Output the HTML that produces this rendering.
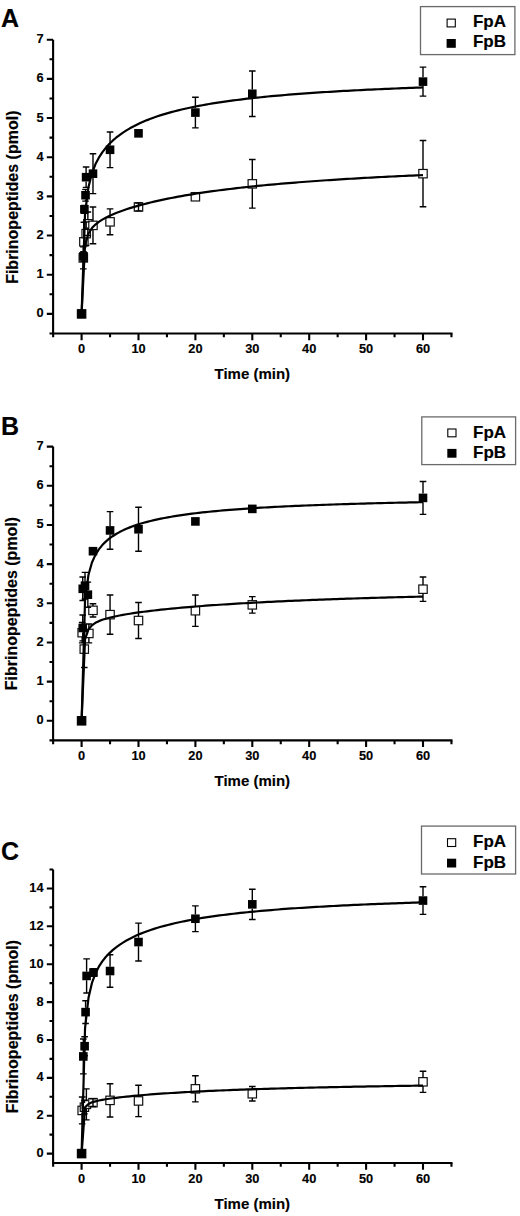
<!DOCTYPE html>
<html><head><meta charset="utf-8"><style>
html,body{margin:0;padding:0;background:#fff;}
body{width:520px;height:1216px;overflow:hidden;}
svg{display:block;}
text{font-family:"Liberation Sans",sans-serif;font-weight:bold;stroke:#000;stroke-width:0.15px;}
</style></head><body>
<svg width="520" height="1216" viewBox="0 0 520 1216">
<rect width="520" height="1216" fill="#fff"/>
<text x="1.0" y="26.8"  font-size="25">A</text>
<rect x="420.5" y="6.6" width="94.4" height="48.0" fill="none" stroke="#6a6a6a" stroke-width="1.3"/>
<rect x="447.1" y="19.1" width="8.2" height="7.8" fill="#fff" stroke="#000" stroke-width="1.1"/>
<rect x="446.6" y="39.0" width="9.2" height="8.8" fill="#000"/>
<text transform="translate(472.9 27.2) scale(1.09 1)" font-size="15.6">FpA</text>
<text transform="translate(472.9 47.4) scale(1.09 1)" font-size="15.6">FpB</text>
<path d="M53.1 39.71 V334.53 M52.05 333.48 H452.50" stroke="#000" stroke-width="2.1" fill="none"/>
<text x="43.5" y="317.40"  font-size="12.8" text-anchor="end">0</text>
<text x="43.5" y="278.23"  font-size="12.8" text-anchor="end">1</text>
<text x="43.5" y="239.06"  font-size="12.8" text-anchor="end">2</text>
<text x="43.5" y="199.89"  font-size="12.8" text-anchor="end">3</text>
<text x="43.5" y="160.72"  font-size="12.8" text-anchor="end">4</text>
<text x="43.5" y="121.55"  font-size="12.8" text-anchor="end">5</text>
<text x="43.5" y="82.38"  font-size="12.8" text-anchor="end">6</text>
<text x="43.5" y="43.21"  font-size="12.8" text-anchor="end">7</text>
<text x="81.60" y="353.48"  font-size="12.8" text-anchor="middle">0</text>
<text x="138.50" y="353.48"  font-size="12.8" text-anchor="middle">10</text>
<text x="195.40" y="353.48"  font-size="12.8" text-anchor="middle">20</text>
<text x="252.30" y="353.48"  font-size="12.8" text-anchor="middle">30</text>
<text x="309.20" y="353.48"  font-size="12.8" text-anchor="middle">40</text>
<text x="366.10" y="353.48"  font-size="12.8" text-anchor="middle">50</text>
<text x="423.00" y="353.48"  font-size="12.8" text-anchor="middle">60</text>
<path d="M49.50 333.48H53.1M46.80 313.90H53.1M49.50 294.31H53.1M46.80 274.73H53.1M49.50 255.14H53.1M46.80 235.56H53.1M49.50 215.97H53.1M46.80 196.39H53.1M49.50 176.80H53.1M46.80 157.22H53.1M49.50 137.63H53.1M46.80 118.05H53.1M49.50 98.46H53.1M46.80 78.88H53.1M49.50 59.29H53.1M46.80 39.71H53.1M53.15 333.48V337.28M81.60 333.48V340.18M110.05 333.48V337.28M138.50 333.48V340.18M166.95 333.48V337.28M195.40 333.48V340.18M223.85 333.48V337.28M252.30 333.48V340.18M280.75 333.48V337.28M309.20 333.48V340.18M337.65 333.48V337.28M366.10 333.48V340.18M394.55 333.48V337.28M423.00 333.48V340.18M451.45 333.48V337.28" stroke="#000" stroke-width="2.1" fill="none"/>
<text transform="translate(252.30 379.28)" font-size="15" text-anchor="middle">Time (min)</text>
<text transform="translate(18.35 197.2) rotate(-90)" x="0" y="0"  font-size="16" text-anchor="middle">Fibrinopeptides (pmol)</text>
<rect x="77.40" y="309.70" width="8.4" height="8.4" fill="#fff" stroke="#111" stroke-width="1.2"/>
<rect x="79.11" y="253.69" width="8.4" height="8.4" fill="#fff" stroke="#111" stroke-width="1.2"/>
<rect x="79.68" y="237.63" width="8.4" height="8.4" fill="#fff" stroke="#111" stroke-width="1.2"/>
<rect x="81.95" y="229.40" width="8.4" height="8.4" fill="#fff" stroke="#111" stroke-width="1.2"/>
<rect x="83.66" y="219.61" width="8.4" height="8.4" fill="#fff" stroke="#111" stroke-width="1.2"/>
<rect x="88.78" y="221.18" width="8.4" height="8.4" fill="#fff" stroke="#111" stroke-width="1.2"/>
<rect x="105.85" y="217.65" width="8.4" height="8.4" fill="#fff" stroke="#111" stroke-width="1.2"/>
<rect x="134.30" y="202.77" width="8.4" height="8.4" fill="#fff" stroke="#111" stroke-width="1.2"/>
<rect x="191.20" y="192.58" width="8.4" height="8.4" fill="#fff" stroke="#111" stroke-width="1.2"/>
<rect x="248.10" y="179.66" width="8.4" height="8.4" fill="#fff" stroke="#111" stroke-width="1.2"/>
<rect x="418.80" y="169.47" width="8.4" height="8.4" fill="#fff" stroke="#111" stroke-width="1.2"/>
<rect x="77.30" y="309.60" width="8.6" height="8.6" fill="#000"/>
<rect x="79.18" y="252.02" width="8.6" height="8.6" fill="#000"/>
<rect x="80.09" y="205.02" width="8.6" height="8.6" fill="#000"/>
<rect x="81.23" y="190.91" width="8.6" height="8.6" fill="#000"/>
<rect x="81.80" y="172.90" width="8.6" height="8.6" fill="#000"/>
<rect x="88.68" y="169.37" width="8.6" height="8.6" fill="#000"/>
<rect x="105.75" y="145.48" width="8.6" height="8.6" fill="#000"/>
<rect x="134.20" y="129.03" width="8.6" height="8.6" fill="#000"/>
<rect x="191.10" y="108.27" width="8.6" height="8.6" fill="#000"/>
<rect x="248.00" y="89.46" width="8.6" height="8.6" fill="#000"/>
<rect x="418.70" y="77.32" width="8.6" height="8.6" fill="#000"/>
<path d="M83.31 253.59V246.92M83.31 262.19V268.85M80.01 246.92H86.61M80.01 268.85H86.61M83.88 237.53V222.24M83.88 246.13V261.41M80.58 222.24H87.18M80.58 261.41H87.18M86.15 229.30V221.85M86.15 237.90V245.35M82.85 221.85H89.45M82.85 245.35H89.45M87.86 219.51V212.06M87.86 228.11V235.56M84.56 212.06H91.16M84.56 235.56H91.16M92.98 221.08V206.97M92.98 229.68V243.79M89.68 206.97H96.28M89.68 243.79H96.28M110.05 217.55V208.92M110.05 226.15V234.78M106.75 208.92H113.35M106.75 234.78H113.35M138.50 203.05V210.88M135.20 203.05H141.80M135.20 210.88H141.80M252.30 179.56V159.57M252.30 188.16V208.14M249.00 159.57H255.60M249.00 208.14H255.60M423.00 169.37V140.57M423.00 177.97V206.77M419.70 140.57H426.30M419.70 206.77H426.30M83.48 252.02V251.62M83.48 260.62V261.02M80.18 251.62H86.78M80.18 261.02H86.78M84.39 205.40V213.23M81.09 205.40H87.69M81.09 213.23H87.69M85.53 190.91V189.34M85.53 199.51V201.09M82.23 189.34H88.83M82.23 201.09H88.83M86.10 172.90V167.01M86.10 181.50V187.38M82.80 167.01H89.40M82.80 187.38H89.40M92.98 169.37V153.69M92.98 177.97V193.65M89.68 153.69H96.28M89.68 193.65H96.28M110.05 145.48V131.96M110.05 154.08V167.60M106.75 131.96H113.35M106.75 167.60H113.35M195.40 108.27V97.29M195.40 116.87V127.84M192.10 97.29H198.70M192.10 127.84H198.70M252.30 89.46V71.05M252.30 98.06V116.48M249.00 71.05H255.60M249.00 116.48H255.60M423.00 77.32V67.13M423.00 85.92V96.11M419.70 67.13H426.30M419.70 96.11H426.30" stroke="#000" stroke-width="1.4" fill="none"/>
<polyline points="81.60,313.90 85.05,244.81 88.50,233.48 91.95,228.06 95.39,224.52 98.84,221.83 102.29,219.62 105.74,217.71 109.19,216.00 112.64,214.46 116.08,213.03 119.53,211.70 122.98,210.46 126.43,209.28 129.88,208.17 133.33,207.11 136.78,206.10 140.22,205.14 143.67,204.21 147.12,203.33 150.57,202.48 154.02,201.66 157.47,200.87 160.92,200.11 164.36,199.37 167.81,198.66 171.26,197.98 174.71,197.31 178.16,196.67 181.61,196.05 185.05,195.44 188.50,194.86 191.95,194.29 195.40,193.73 198.85,193.20 202.30,192.68 205.75,192.17 209.19,191.67 212.64,191.19 216.09,190.73 219.54,190.27 222.99,189.82 226.44,189.39 229.88,188.97 233.33,188.56 236.78,188.15 240.23,187.76 243.68,187.38 247.13,187.00 250.58,186.63 254.02,186.28 257.47,185.93 260.92,185.58 264.37,185.25 267.82,184.92 271.27,184.60 274.72,184.29 278.16,183.98 281.61,183.68 285.06,183.38 288.51,183.10 291.96,182.81 295.41,182.53 298.85,182.26 302.30,182.00 305.75,181.73 309.20,181.48 312.65,181.23 316.10,180.98 319.55,180.74 322.99,180.50 326.44,180.26 329.89,180.03 333.34,179.81 336.79,179.59 340.24,179.37 343.68,179.16 347.13,178.94 350.58,178.74 354.03,178.53 357.48,178.33 360.93,178.14 364.38,177.95 367.82,177.76 371.27,177.57 374.72,177.38 378.17,177.20 381.62,177.02 385.07,176.85 388.52,176.68 391.96,176.51 395.41,176.34 398.86,176.17 402.31,176.01 405.76,175.85 409.21,175.69 412.65,175.54 416.10,175.39 419.55,175.23 423.00,175.09" fill="none" stroke="#000" stroke-width="2.2" stroke-linejoin="round"/>
<polyline points="81.60,313.90 85.05,213.25 88.50,186.94 91.95,173.33 95.39,164.36 98.84,157.67 102.29,152.33 105.74,147.87 109.19,144.05 112.64,140.69 116.08,137.71 119.53,135.03 122.98,132.60 126.43,130.37 129.88,128.33 133.33,126.44 136.78,124.68 140.22,123.05 143.67,121.53 147.12,120.10 150.57,118.76 154.02,117.49 157.47,116.30 160.92,115.17 164.36,114.10 167.81,113.09 171.26,112.13 174.71,111.21 178.16,110.34 181.61,109.51 185.05,108.71 188.50,107.95 191.95,107.22 195.40,106.53 198.85,105.86 202.30,105.22 205.75,104.60 209.19,104.01 212.64,103.43 216.09,102.88 219.54,102.35 222.99,101.84 226.44,101.35 229.88,100.87 233.33,100.41 236.78,99.97 240.23,99.54 243.68,99.12 247.13,98.71 250.58,98.32 254.02,97.94 257.47,97.57 260.92,97.22 264.37,96.87 267.82,96.53 271.27,96.21 274.72,95.89 278.16,95.58 281.61,95.28 285.06,94.98 288.51,94.70 291.96,94.42 295.41,94.15 298.85,93.88 302.30,93.63 305.75,93.37 309.20,93.13 312.65,92.89 316.10,92.66 319.55,92.43 322.99,92.21 326.44,91.99 329.89,91.78 333.34,91.57 336.79,91.36 340.24,91.17 343.68,90.97 347.13,90.78 350.58,90.59 354.03,90.41 357.48,90.23 360.93,90.06 364.38,89.89 367.82,89.72 371.27,89.56 374.72,89.39 378.17,89.24 381.62,89.08 385.07,88.93 388.52,88.78 391.96,88.63 395.41,88.49 398.86,88.35 402.31,88.21 405.76,88.07 409.21,87.94 412.65,87.81 416.10,87.68 419.55,87.55 423.00,87.43" fill="none" stroke="#000" stroke-width="2.2" stroke-linejoin="round"/>
<text x="1.0" y="434.5"  font-size="25">B</text>
<rect x="421.8" y="416.9" width="93.8" height="47.7" fill="none" stroke="#6a6a6a" stroke-width="1.3"/>
<rect x="447.8" y="429.0" width="8.2" height="7.8" fill="#fff" stroke="#000" stroke-width="1.1"/>
<rect x="447.3" y="448.9" width="9.2" height="8.8" fill="#000"/>
<text transform="translate(473.1 437.6) scale(1.09 1)" font-size="15.6">FpA</text>
<text transform="translate(473.1 457.7) scale(1.09 1)" font-size="15.6">FpB</text>
<path d="M53.1 446.61 V741.43 M52.05 740.38 H452.50" stroke="#000" stroke-width="2.1" fill="none"/>
<text x="43.5" y="724.30"  font-size="12.8" text-anchor="end">0</text>
<text x="43.5" y="685.13"  font-size="12.8" text-anchor="end">1</text>
<text x="43.5" y="645.96"  font-size="12.8" text-anchor="end">2</text>
<text x="43.5" y="606.79"  font-size="12.8" text-anchor="end">3</text>
<text x="43.5" y="567.62"  font-size="12.8" text-anchor="end">4</text>
<text x="43.5" y="528.45"  font-size="12.8" text-anchor="end">5</text>
<text x="43.5" y="489.28"  font-size="12.8" text-anchor="end">6</text>
<text x="43.5" y="450.11"  font-size="12.8" text-anchor="end">7</text>
<text x="81.60" y="760.38"  font-size="12.8" text-anchor="middle">0</text>
<text x="138.50" y="760.38"  font-size="12.8" text-anchor="middle">10</text>
<text x="195.40" y="760.38"  font-size="12.8" text-anchor="middle">20</text>
<text x="252.30" y="760.38"  font-size="12.8" text-anchor="middle">30</text>
<text x="309.20" y="760.38"  font-size="12.8" text-anchor="middle">40</text>
<text x="366.10" y="760.38"  font-size="12.8" text-anchor="middle">50</text>
<text x="423.00" y="760.38"  font-size="12.8" text-anchor="middle">60</text>
<path d="M49.50 740.38H53.1M46.80 720.80H53.1M49.50 701.21H53.1M46.80 681.63H53.1M49.50 662.04H53.1M46.80 642.46H53.1M49.50 622.88H53.1M46.80 603.29H53.1M49.50 583.70H53.1M46.80 564.12H53.1M49.50 544.53H53.1M46.80 524.95H53.1M49.50 505.36H53.1M46.80 485.78H53.1M49.50 466.19H53.1M46.80 446.61H53.1M53.15 740.38V744.18M81.60 740.38V747.09M110.05 740.38V744.18M138.50 740.38V747.09M166.95 740.38V744.18M195.40 740.38V747.09M223.85 740.38V744.18M252.30 740.38V747.09M280.75 740.38V744.18M309.20 740.38V747.09M337.65 740.38V744.18M366.10 740.38V747.09M394.55 740.38V744.18M423.00 740.38V747.09M451.45 740.38V744.18" stroke="#000" stroke-width="2.1" fill="none"/>
<text transform="translate(252.30 786.18)" font-size="15" text-anchor="middle">Time (min)</text>
<text transform="translate(16.6 603.5) rotate(-90)" x="0" y="0"  font-size="16" text-anchor="middle">Fibrinopeptides (pmol)</text>
<rect x="77.40" y="716.60" width="8.4" height="8.4" fill="#fff" stroke="#111" stroke-width="1.2"/>
<rect x="80.07" y="644.92" width="8.4" height="8.4" fill="#fff" stroke="#111" stroke-width="1.2"/>
<rect x="77.97" y="628.47" width="8.4" height="8.4" fill="#fff" stroke="#111" stroke-width="1.2"/>
<rect x="84.68" y="629.25" width="8.4" height="8.4" fill="#fff" stroke="#111" stroke-width="1.2"/>
<rect x="88.78" y="606.14" width="8.4" height="8.4" fill="#fff" stroke="#111" stroke-width="1.2"/>
<rect x="105.85" y="610.45" width="8.4" height="8.4" fill="#fff" stroke="#111" stroke-width="1.2"/>
<rect x="134.30" y="616.32" width="8.4" height="8.4" fill="#fff" stroke="#111" stroke-width="1.2"/>
<rect x="191.20" y="606.53" width="8.4" height="8.4" fill="#fff" stroke="#111" stroke-width="1.2"/>
<rect x="248.10" y="600.66" width="8.4" height="8.4" fill="#fff" stroke="#111" stroke-width="1.2"/>
<rect x="418.80" y="584.99" width="8.4" height="8.4" fill="#fff" stroke="#111" stroke-width="1.2"/>
<rect x="77.30" y="716.50" width="8.6" height="8.6" fill="#000"/>
<rect x="78.44" y="623.67" width="8.6" height="8.6" fill="#000"/>
<rect x="78.44" y="584.50" width="8.6" height="8.6" fill="#000"/>
<rect x="83.56" y="590.37" width="8.6" height="8.6" fill="#000"/>
<rect x="80.71" y="581.36" width="8.6" height="8.6" fill="#000"/>
<rect x="88.68" y="546.89" width="8.6" height="8.6" fill="#000"/>
<rect x="105.75" y="526.13" width="8.6" height="8.6" fill="#000"/>
<rect x="134.20" y="524.96" width="8.6" height="8.6" fill="#000"/>
<rect x="191.10" y="517.12" width="8.6" height="8.6" fill="#000"/>
<rect x="248.00" y="504.59" width="8.6" height="8.6" fill="#000"/>
<rect x="418.70" y="493.62" width="8.6" height="8.6" fill="#000"/>
<path d="M84.27 644.82V630.71M84.27 653.42V667.53M80.97 630.71H87.57M80.97 667.53H87.57M82.17 628.37V622.48M82.17 636.97V642.85M78.87 622.48H85.47M78.87 642.85H85.47M88.88 629.15V624.05M88.88 637.75V642.85M85.58 624.05H92.18M85.58 642.85H92.18M92.98 606.04V603.68M92.98 614.64V617.00M89.68 603.68H96.28M89.68 617.00H96.28M110.05 610.35V595.06M110.05 618.95V634.23M106.75 595.06H113.35M106.75 634.23H113.35M138.50 616.22V602.51M138.50 624.82V638.54M135.20 602.51H141.80M135.20 638.54H141.80M195.40 606.43V595.06M195.40 615.03V626.40M192.10 595.06H198.70M192.10 626.40H198.70M252.30 600.56V596.63M252.30 609.16V613.08M249.00 596.63H255.60M249.00 613.08H255.60M423.00 584.89V577.05M423.00 593.49V601.33M419.70 577.05H426.30M419.70 601.33H426.30M82.74 623.67V615.04M82.74 632.27V640.89M79.44 615.04H86.04M79.44 640.89H86.04M82.74 584.50V577.05M82.74 593.10V600.55M79.44 577.05H86.04M79.44 600.55H86.04M87.86 590.37V582.14M87.86 598.97V607.21M84.56 582.14H91.16M84.56 607.21H91.16M85.01 581.36V572.35M85.01 589.96V598.98M81.71 572.35H88.31M81.71 598.98H88.31M92.98 549.24V553.15M89.68 549.24H96.28M89.68 553.15H96.28M110.05 526.13V511.63M110.05 534.73V549.24M106.75 511.63H113.35M106.75 549.24H113.35M138.50 524.96V507.32M138.50 533.56V551.19M135.20 507.32H141.80M135.20 551.19H141.80M252.30 506.93V510.85M249.00 506.93H255.60M249.00 510.85H255.60M423.00 493.62V481.47M423.00 502.22V514.37M419.70 481.47H426.30M419.70 514.37H426.30" stroke="#000" stroke-width="1.4" fill="none"/>
<polyline points="81.60,720.80 85.05,639.10 88.50,629.40 91.95,625.30 95.39,622.86 98.84,621.15 102.29,619.82 105.74,618.72 109.19,617.78 112.64,616.95 116.08,616.20 119.53,615.51 122.98,614.88 126.43,614.28 129.88,613.72 133.33,613.19 136.78,612.69 140.22,612.21 143.67,611.75 147.12,611.31 150.57,610.89 154.02,610.48 157.47,610.09 160.92,609.71 164.36,609.35 167.81,608.99 171.26,608.65 174.71,608.32 178.16,608.00 181.61,607.68 185.05,607.38 188.50,607.08 191.95,606.80 195.40,606.52 198.85,606.24 202.30,605.98 205.75,605.72 209.19,605.47 212.64,605.22 216.09,604.98 219.54,604.74 222.99,604.51 226.44,604.29 229.88,604.07 233.33,603.86 236.78,603.65 240.23,603.44 243.68,603.24 247.13,603.05 250.58,602.85 254.02,602.66 257.47,602.48 260.92,602.30 264.37,602.12 267.82,601.95 271.27,601.78 274.72,601.61 278.16,601.45 281.61,601.29 285.06,601.13 288.51,600.97 291.96,600.82 295.41,600.67 298.85,600.53 302.30,600.38 305.75,600.24 309.20,600.10 312.65,599.97 316.10,599.83 319.55,599.70 322.99,599.57 326.44,599.44 329.89,599.32 333.34,599.19 336.79,599.07 340.24,598.95 343.68,598.84 347.13,598.72 350.58,598.61 354.03,598.49 357.48,598.38 360.93,598.27 364.38,598.17 367.82,598.06 371.27,597.96 374.72,597.86 378.17,597.76 381.62,597.66 385.07,597.56 388.52,597.46 391.96,597.37 395.41,597.27 398.86,597.18 402.31,597.09 405.76,597.00 409.21,596.91 412.65,596.82 416.10,596.74 419.55,596.65 423.00,596.57" fill="none" stroke="#000" stroke-width="2.2" stroke-linejoin="round"/>
<polyline points="81.60,720.80 85.05,600.13 88.50,574.72 91.95,562.53 95.39,554.86 98.84,549.35 102.29,545.08 105.74,541.61 109.19,538.70 112.64,536.20 116.08,534.02 119.53,532.09 122.98,530.36 126.43,528.80 129.88,527.38 133.33,526.09 136.78,524.90 140.22,523.81 143.67,522.79 147.12,521.85 150.57,520.97 154.02,520.15 157.47,519.38 160.92,518.66 164.36,517.98 167.81,517.33 171.26,516.73 174.71,516.15 178.16,515.61 181.61,515.09 185.05,514.60 188.50,514.13 191.95,513.68 195.40,513.26 198.85,512.85 202.30,512.46 205.75,512.09 209.19,511.73 212.64,511.39 216.09,511.06 219.54,510.74 222.99,510.44 226.44,510.14 229.88,509.86 233.33,509.59 236.78,509.33 240.23,509.07 243.68,508.83 247.13,508.59 250.58,508.36 254.02,508.14 257.47,507.93 260.92,507.72 264.37,507.52 267.82,507.32 271.27,507.14 274.72,506.95 278.16,506.77 281.61,506.60 285.06,506.43 288.51,506.27 291.96,506.11 295.41,505.95 298.85,505.80 302.30,505.66 305.75,505.51 309.20,505.37 312.65,505.24 316.10,505.11 319.55,504.98 322.99,504.85 326.44,504.73 329.89,504.61 333.34,504.49 336.79,504.38 340.24,504.27 343.68,504.16 347.13,504.05 350.58,503.94 354.03,503.84 357.48,503.74 360.93,503.64 364.38,503.55 367.82,503.46 371.27,503.36 374.72,503.27 378.17,503.19 381.62,503.10 385.07,503.01 388.52,502.93 391.96,502.85 395.41,502.77 398.86,502.69 402.31,502.62 405.76,502.54 409.21,502.47 412.65,502.39 416.10,502.32 419.55,502.25 423.00,502.19" fill="none" stroke="#000" stroke-width="2.2" stroke-linejoin="round"/>
<text x="1.0" y="859.8"  font-size="25">C</text>
<rect x="421.5" y="826.1" width="94.1" height="47.9" fill="none" stroke="#6a6a6a" stroke-width="1.3"/>
<rect x="447.5" y="838.7" width="8.2" height="7.8" fill="#fff" stroke="#000" stroke-width="1.1"/>
<rect x="447.0" y="858.7" width="9.2" height="8.8" fill="#000"/>
<text transform="translate(473.1 846.8) scale(1.09 1)" font-size="15.6">FpA</text>
<text transform="translate(473.1 867.6) scale(1.09 1)" font-size="15.6">FpB</text>
<path d="M53.1 869.50 V1164.12 M52.05 1163.07 H452.50" stroke="#000" stroke-width="2.1" fill="none"/>
<text x="43.5" y="1157.10"  font-size="12.8" text-anchor="end">0</text>
<text x="43.5" y="1119.22"  font-size="12.8" text-anchor="end">2</text>
<text x="43.5" y="1081.34"  font-size="12.8" text-anchor="end">4</text>
<text x="43.5" y="1043.46"  font-size="12.8" text-anchor="end">6</text>
<text x="43.5" y="1005.58"  font-size="12.8" text-anchor="end">8</text>
<text x="43.5" y="967.70"  font-size="12.8" text-anchor="end">10</text>
<text x="43.5" y="929.82"  font-size="12.8" text-anchor="end">12</text>
<text x="43.5" y="891.94"  font-size="12.8" text-anchor="end">14</text>
<text x="81.60" y="1183.07"  font-size="12.8" text-anchor="middle">0</text>
<text x="138.50" y="1183.07"  font-size="12.8" text-anchor="middle">10</text>
<text x="195.40" y="1183.07"  font-size="12.8" text-anchor="middle">20</text>
<text x="252.30" y="1183.07"  font-size="12.8" text-anchor="middle">30</text>
<text x="309.20" y="1183.07"  font-size="12.8" text-anchor="middle">40</text>
<text x="366.10" y="1183.07"  font-size="12.8" text-anchor="middle">50</text>
<text x="423.00" y="1183.07"  font-size="12.8" text-anchor="middle">60</text>
<path d="M46.80 1153.60H53.1M49.50 1134.66H53.1M46.80 1115.72H53.1M49.50 1096.78H53.1M46.80 1077.84H53.1M49.50 1058.90H53.1M46.80 1039.96H53.1M49.50 1021.02H53.1M46.80 1002.08H53.1M49.50 983.14H53.1M46.80 964.20H53.1M49.50 945.26H53.1M46.80 926.32H53.1M49.50 907.38H53.1M46.80 888.44H53.1M49.50 869.50H53.1M53.15 1163.07V1166.87M81.60 1163.07V1169.77M110.05 1163.07V1166.87M138.50 1163.07V1169.77M166.95 1163.07V1166.87M195.40 1163.07V1169.77M223.85 1163.07V1166.87M252.30 1163.07V1169.77M280.75 1163.07V1166.87M309.20 1163.07V1169.77M337.65 1163.07V1166.87M366.10 1163.07V1169.77M394.55 1163.07V1166.87M423.00 1163.07V1169.77M451.45 1163.07V1166.87" stroke="#000" stroke-width="2.1" fill="none"/>
<text transform="translate(252.30 1208.87)" font-size="15" text-anchor="middle">Time (min)</text>
<text transform="translate(18.1 1026.7) rotate(-90)" x="0" y="0"  font-size="16" text-anchor="middle">Fibrinopeptides (pmol)</text>
<rect x="77.40" y="1149.40" width="8.4" height="8.4" fill="#fff" stroke="#111" stroke-width="1.2"/>
<rect x="77.97" y="1106.22" width="8.4" height="8.4" fill="#fff" stroke="#111" stroke-width="1.2"/>
<rect x="80.24" y="1103.00" width="8.4" height="8.4" fill="#fff" stroke="#111" stroke-width="1.2"/>
<rect x="82.18" y="1100.16" width="8.4" height="8.4" fill="#fff" stroke="#111" stroke-width="1.2"/>
<rect x="88.78" y="1098.45" width="8.4" height="8.4" fill="#fff" stroke="#111" stroke-width="1.2"/>
<rect x="105.85" y="1096.18" width="8.4" height="8.4" fill="#fff" stroke="#111" stroke-width="1.2"/>
<rect x="134.30" y="1096.75" width="8.4" height="8.4" fill="#fff" stroke="#111" stroke-width="1.2"/>
<rect x="191.20" y="1084.63" width="8.4" height="8.4" fill="#fff" stroke="#111" stroke-width="1.2"/>
<rect x="248.10" y="1089.55" width="8.4" height="8.4" fill="#fff" stroke="#111" stroke-width="1.2"/>
<rect x="418.80" y="1077.62" width="8.4" height="8.4" fill="#fff" stroke="#111" stroke-width="1.2"/>
<rect x="77.30" y="1149.30" width="8.6" height="8.6" fill="#000"/>
<rect x="79.01" y="1052.14" width="8.6" height="8.6" fill="#000"/>
<rect x="80.32" y="1041.91" width="8.6" height="8.6" fill="#000"/>
<rect x="81.28" y="1007.82" width="8.6" height="8.6" fill="#000"/>
<rect x="82.31" y="971.64" width="8.6" height="8.6" fill="#000"/>
<rect x="89.19" y="968.23" width="8.6" height="8.6" fill="#000"/>
<rect x="105.75" y="966.72" width="8.6" height="8.6" fill="#000"/>
<rect x="134.20" y="937.74" width="8.6" height="8.6" fill="#000"/>
<rect x="191.10" y="914.44" width="8.6" height="8.6" fill="#000"/>
<rect x="248.00" y="900.05" width="8.6" height="8.6" fill="#000"/>
<rect x="418.70" y="896.26" width="8.6" height="8.6" fill="#000"/>
<path d="M82.17 1106.12V1096.97M82.17 1114.72V1123.86M78.87 1096.97H85.47M78.87 1123.86H85.47M84.44 1102.90V1100.57M84.44 1111.50V1113.83M81.14 1100.57H87.74M81.14 1113.83H87.74M86.38 1100.06V1088.83M86.38 1108.66V1119.89M83.08 1088.83H89.68M83.08 1119.89H89.68M92.98 1098.86V1106.44M89.68 1098.86H96.28M89.68 1106.44H96.28M110.05 1096.08V1083.71M110.05 1104.68V1117.05M106.75 1083.71H113.35M106.75 1117.05H113.35M138.50 1096.65V1085.23M138.50 1105.25V1116.67M135.20 1085.23H141.80M135.20 1116.67H141.80M195.40 1084.53V1075.76M195.40 1093.13V1101.89M192.10 1075.76H198.70M192.10 1101.89H198.70M252.30 1089.45V1086.55M252.30 1098.05V1100.95M249.00 1086.55H255.60M249.00 1100.95H255.60M423.00 1077.52V1071.21M423.00 1086.12V1092.42M419.70 1071.21H426.30M419.70 1092.42H426.30M83.31 1052.14V1039.01M83.31 1060.74V1073.86M80.01 1039.01H86.61M80.01 1073.86H86.61M84.62 1041.91V1036.74M84.62 1050.51V1055.68M81.32 1036.74H87.92M81.32 1055.68H87.92M85.58 1007.82V1000.75M85.58 1016.42V1023.48M82.28 1000.75H88.88M82.28 1023.48H88.88M86.61 971.64V958.90M86.61 980.24V992.99M83.31 958.90H89.91M83.31 992.99H89.91M93.49 968.75V976.32M90.19 968.75H96.79M90.19 976.32H96.79M110.05 966.72V954.73M110.05 975.32V987.31M106.75 954.73H113.35M106.75 987.31H113.35M138.50 937.74V923.10M138.50 946.34V960.98M135.20 923.10H141.80M135.20 960.98H141.80M195.40 914.44V905.86M195.40 923.04V931.62M192.10 905.86H198.70M192.10 931.62H198.70M252.30 900.05V889.20M252.30 908.65V919.50M249.00 889.20H255.60M249.00 919.50H255.60M423.00 896.26V886.74M423.00 904.86V914.39M419.70 886.74H426.30M419.70 914.39H426.30" stroke="#000" stroke-width="1.4" fill="none"/>
<polyline points="81.60,1153.60 85.05,1107.36 88.50,1103.91 91.95,1102.35 95.39,1101.33 98.84,1100.53 102.29,1099.87 105.74,1099.29 109.19,1098.76 112.64,1098.28 116.08,1097.84 119.53,1097.42 122.98,1097.02 126.43,1096.65 129.88,1096.29 133.33,1095.96 136.78,1095.63 140.22,1095.32 143.67,1095.02 147.12,1094.74 150.57,1094.47 154.02,1094.20 157.47,1093.95 160.92,1093.70 164.36,1093.46 167.81,1093.23 171.26,1093.01 174.71,1092.80 178.16,1092.59 181.61,1092.39 185.05,1092.19 188.50,1092.00 191.95,1091.82 195.40,1091.64 198.85,1091.46 202.30,1091.30 205.75,1091.13 209.19,1090.97 212.64,1090.82 216.09,1090.66 219.54,1090.52 222.99,1090.37 226.44,1090.23 229.88,1090.09 233.33,1089.96 236.78,1089.83 240.23,1089.70 243.68,1089.58 247.13,1089.46 250.58,1089.34 254.02,1089.22 257.47,1089.11 260.92,1089.00 264.37,1088.89 267.82,1088.79 271.27,1088.68 274.72,1088.58 278.16,1088.48 281.61,1088.38 285.06,1088.29 288.51,1088.20 291.96,1088.10 295.41,1088.01 298.85,1087.93 302.30,1087.84 305.75,1087.76 309.20,1087.67 312.65,1087.59 316.10,1087.51 319.55,1087.43 322.99,1087.36 326.44,1087.28 329.89,1087.21 333.34,1087.13 336.79,1087.06 340.24,1086.99 343.68,1086.92 347.13,1086.86 350.58,1086.79 354.03,1086.72 357.48,1086.66 360.93,1086.60 364.38,1086.53 367.82,1086.47 371.27,1086.41 374.72,1086.35 378.17,1086.29 381.62,1086.24 385.07,1086.18 388.52,1086.12 391.96,1086.07 395.41,1086.02 398.86,1085.96 402.31,1085.91 405.76,1085.86 409.21,1085.81 412.65,1085.76 416.10,1085.71 419.55,1085.66 423.00,1085.61" fill="none" stroke="#000" stroke-width="2.2" stroke-linejoin="round"/>
<polyline points="81.60,1153.60 85.05,1028.06 88.50,997.83 91.95,982.96 95.39,973.51 98.84,966.68 102.29,961.36 105.74,957.00 109.19,953.32 112.64,950.14 116.08,947.33 119.53,944.83 122.98,942.58 126.43,940.53 129.88,938.66 133.33,936.93 136.78,935.34 140.22,933.86 143.67,932.49 147.12,931.20 150.57,930.00 154.02,928.86 157.47,927.80 160.92,926.79 164.36,925.84 167.81,924.94 171.26,924.08 174.71,923.27 178.16,922.49 181.61,921.75 185.05,921.05 188.50,920.38 191.95,919.73 195.40,919.12 198.85,918.52 202.30,917.96 205.75,917.41 209.19,916.89 212.64,916.39 216.09,915.90 219.54,915.43 222.99,914.98 226.44,914.55 229.88,914.13 233.33,913.73 236.78,913.34 240.23,912.96 243.68,912.59 247.13,912.24 250.58,911.89 254.02,911.56 257.47,911.24 260.92,910.92 264.37,910.62 267.82,910.32 271.27,910.03 274.72,909.76 278.16,909.48 281.61,909.22 285.06,908.96 288.51,908.71 291.96,908.47 295.41,908.23 298.85,908.00 302.30,907.78 305.75,907.56 309.20,907.34 312.65,907.13 316.10,906.93 319.55,906.73 322.99,906.53 326.44,906.34 329.89,906.16 333.34,905.98 336.79,905.80 340.24,905.62 343.68,905.45 347.13,905.29 350.58,905.12 354.03,904.97 357.48,904.81 360.93,904.66 364.38,904.51 367.82,904.36 371.27,904.22 374.72,904.08 378.17,903.94 381.62,903.80 385.07,903.67 388.52,903.54 391.96,903.41 395.41,903.29 398.86,903.16 402.31,903.04 405.76,902.92 409.21,902.81 412.65,902.69 416.10,902.58 419.55,902.47 423.00,902.36" fill="none" stroke="#000" stroke-width="2.2" stroke-linejoin="round"/>
</svg>
</body></html>
